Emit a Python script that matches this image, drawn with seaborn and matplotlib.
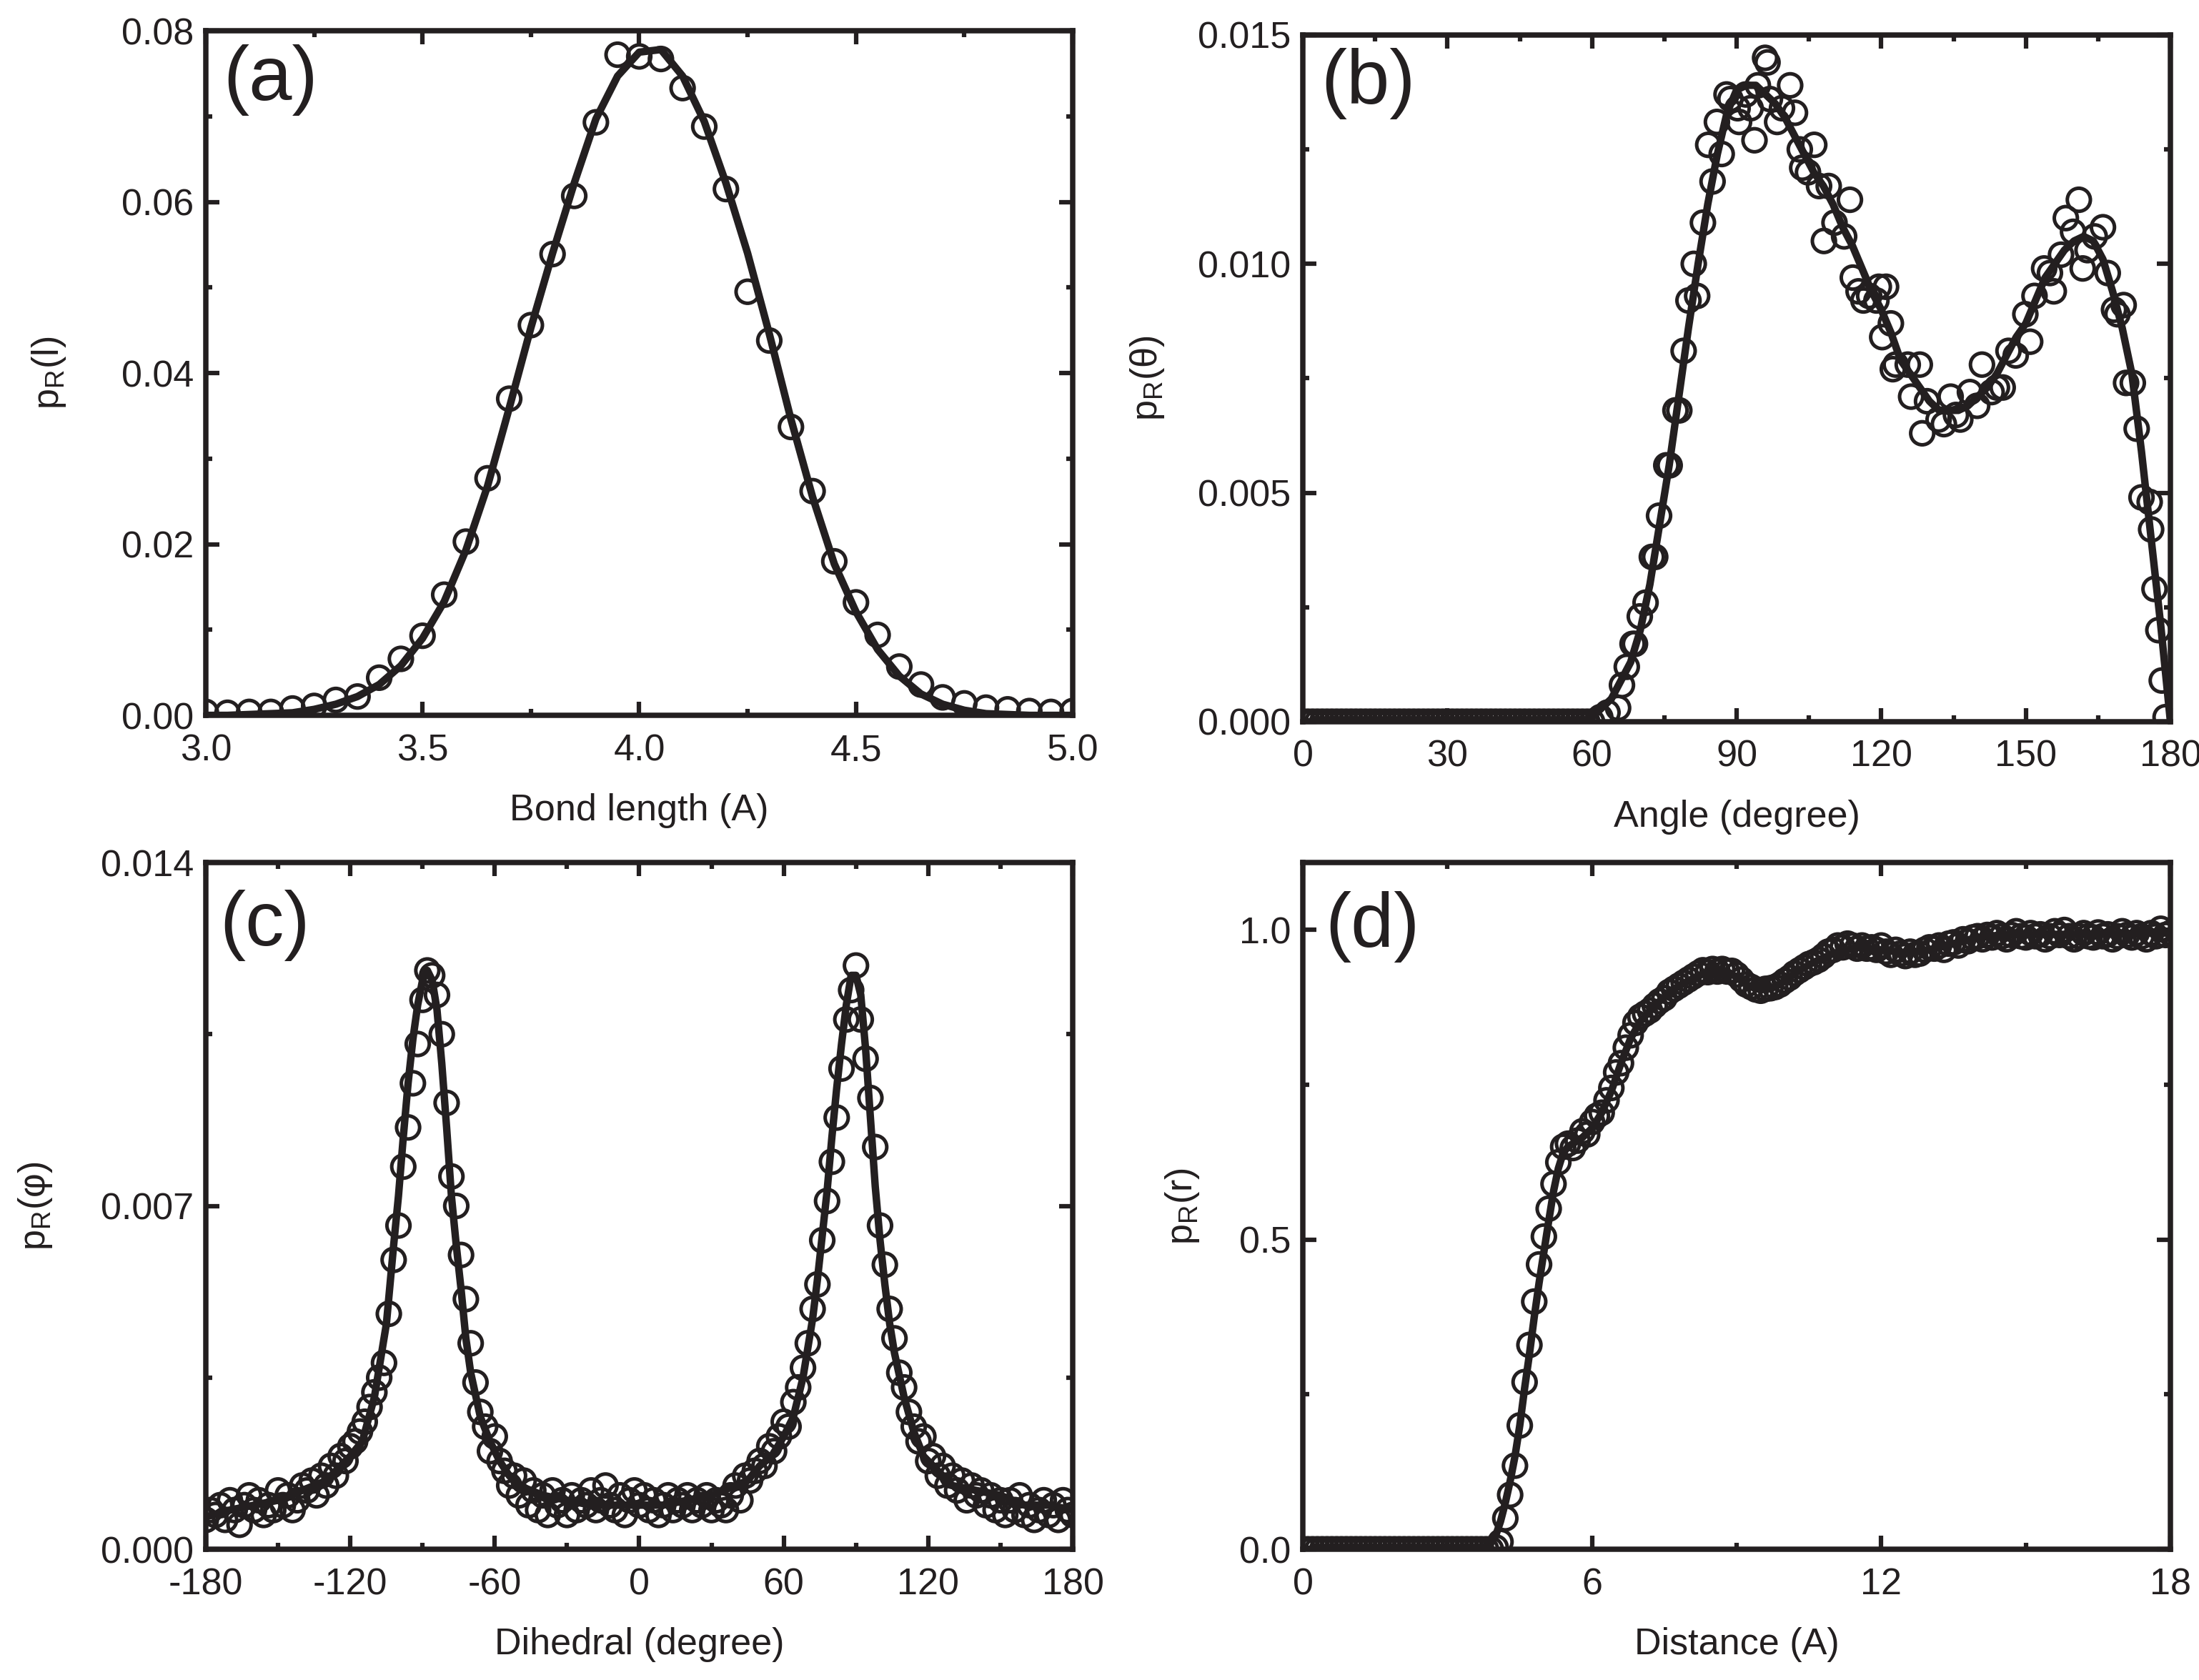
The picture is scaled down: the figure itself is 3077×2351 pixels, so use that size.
import numpy as np
import matplotlib
matplotlib.use("Agg")
import matplotlib.pyplot as plt
import seaborn as sns

INK = "#231f20"

# ---- (a) bond length distribution ----
bond_x = np.round(np.arange(3.0, 5.001, 0.05), 2)
bond_pts = [0.0004, 0.0003, 0.0004, 0.0004, 0.0008, 0.0011, 0.0018, 0.0022, 0.0044, 0.0066,
            0.0093, 0.0141, 0.0203, 0.0277, 0.0370, 0.0456, 0.0539, 0.0607, 0.0693, 0.0772,
            0.0770, 0.0767, 0.0733, 0.0688, 0.0615, 0.0495, 0.0438, 0.0337, 0.0262, 0.0180,
            0.0132, 0.0094, 0.0057, 0.0036, 0.0021, 0.0014, 0.0009, 0.0007, 0.0005, 0.0004,
            0.0005]
bond_fit = [0.0, 0.0, 0.0001, 0.0002, 0.0003, 0.0007, 0.0013, 0.0022, 0.0036, 0.0058,
            0.0090, 0.0133, 0.0193, 0.0268, 0.0359, 0.0453, 0.0540, 0.0622, 0.0697, 0.0747,
            0.0775, 0.0778, 0.0747, 0.0694, 0.0622, 0.0540, 0.0446, 0.0346, 0.0255, 0.0177,
            0.0121, 0.0077, 0.0046, 0.0025, 0.0013, 0.0006, 0.0002, 0.0001, 0.0, 0.0,
            0.0]

# ---- (b) angle distribution ----
angle_x = list(range(0, 61)) + [
    61.7, 63.2, 65.4, 66.2, 67.2, 68.4, 68.9, 69.9, 71.1, 72.4, 73.1, 73.9, 75.4, 76.1,
    77.3, 78.1, 79.0, 80.0, 81.1, 81.8, 83.0, 84.1, 85.0, 85.9, 86.9, 87.9, 88.7, 90.2,
    90.5, 91.9, 92.9, 93.7, 94.4, 95.9, 96.4, 96.9, 98.4, 99.4, 101.1, 102.1, 103.1, 103.6,
    104.8, 106.1, 107.1, 108.1, 109.1, 110.3, 112.3, 113.5, 114.1, 115.3, 116.3, 117.5,
    119.0, 119.5, 120.2, 121.0, 122.0, 122.4, 123.0, 125.5, 126.2, 128.0, 128.5, 129.5,
    131.9, 133.0, 134.4, 135.5, 136.4, 138.4, 139.9, 140.9, 142.9, 144.0, 145.2, 146.4,
    147.9, 149.9, 150.9, 151.8, 153.8, 155.0, 155.8, 157.3, 158.3, 159.8, 161.0, 161.8,
    162.8, 164.3, 166.0, 167.0, 168.3, 169.0, 170.3, 170.8, 172.2, 173.0, 174.0, 175.7,
    176.0, 176.7, 177.5, 178.2, 179.0]
angle_pts = [0.0] * 61 + [
    0.0001, 0.0002, 0.0003, 0.0008, 0.0012, 0.0017, 0.0017, 0.0023, 0.0026, 0.0036, 0.0036,
    0.0045, 0.0056, 0.0056, 0.0068, 0.0068, 0.0081, 0.0092, 0.0100, 0.0093, 0.0109, 0.0126,
    0.0118, 0.0131, 0.0124, 0.0137, 0.0136, 0.0134, 0.0131, 0.0137, 0.0134, 0.0127, 0.0139,
    0.0145, 0.0144, 0.0136, 0.0131, 0.0134, 0.0139, 0.0133, 0.0125, 0.0121, 0.0120, 0.0126,
    0.0117, 0.0105, 0.0117, 0.0109, 0.0106, 0.0114, 0.0097, 0.0094, 0.0092, 0.0093, 0.0092,
    0.0095, 0.0084, 0.0095, 0.0087, 0.0077, 0.0078, 0.0078, 0.0071, 0.0078, 0.0063, 0.0070,
    0.0066, 0.0065, 0.0071, 0.0067, 0.0066, 0.0072, 0.0069, 0.0078, 0.0072, 0.0073, 0.0073,
    0.0081, 0.0080, 0.0089, 0.0083, 0.0093, 0.0099, 0.0098, 0.0094, 0.0102, 0.0110, 0.0107,
    0.0114, 0.0099, 0.0103, 0.0106, 0.0108, 0.0098, 0.0090, 0.0089, 0.0091, 0.0074, 0.0074,
    0.0064, 0.0049, 0.0048, 0.0042, 0.0029, 0.0020, 0.0009, 0.0001]
angle_fit_x = [0, 56] + list(range(58, 181, 2))
angle_fit = [0.0, 0.0, 0.00003, 0.0001, 0.0003, 0.0005, 0.0009, 0.0013, 0.0020, 0.0030,
             0.0043, 0.0056, 0.0071, 0.0086, 0.0100, 0.0113, 0.0124, 0.0133, 0.0138, 0.0139,
             0.0139, 0.0137, 0.0135, 0.0132, 0.0128, 0.0124, 0.0120, 0.0117, 0.0113, 0.0108,
             0.0104, 0.0099, 0.0094, 0.0090, 0.0085, 0.0079, 0.0076, 0.0073, 0.0070, 0.0068,
             0.0068, 0.0068, 0.0069, 0.0071, 0.0073, 0.0076, 0.0080, 0.0084, 0.0087, 0.0092,
             0.0097, 0.0100, 0.0103, 0.0105, 0.0106, 0.0105, 0.0101, 0.0094, 0.0086, 0.0076,
             0.0059, 0.0040, 0.0021, 0.0]

# ---- (c) dihedral distribution ----
dih_x = np.arange(-180, 181, 2)
dih_pts = [
    0.0006, 0.0008, 0.0007, 0.0009, 0.0006, 0.0010, 0.0008, 0.0005, 0.0009, 0.0011,
    0.0008, 0.0010, 0.0007, 0.0009, 0.0008, 0.0012, 0.0009, 0.0011, 0.0008, 0.0010,
    0.0013, 0.0012, 0.0014, 0.0011, 0.0015, 0.0013, 0.0017, 0.0015, 0.0019, 0.0018,
    0.0021, 0.0022, 0.0024, 0.0026, 0.0029, 0.0032, 0.0035, 0.0038, 0.0048, 0.0059,
    0.0066, 0.0078, 0.0086, 0.0095, 0.0103, 0.0112, 0.0118, 0.0117, 0.0113, 0.0105,
    0.0091, 0.0076, 0.0070, 0.0060, 0.0051, 0.0042, 0.0034, 0.0028, 0.0025, 0.0020,
    0.0023, 0.0018, 0.0016, 0.0013, 0.0015, 0.0011, 0.0014, 0.0009, 0.0012, 0.0008,
    0.0011, 0.0007, 0.0012, 0.0009, 0.0010, 0.0007, 0.0011, 0.0008, 0.0010, 0.0009,
    0.0012, 0.0008, 0.0010, 0.0013, 0.0009, 0.0008, 0.0011, 0.0007, 0.0010, 0.0012,
    0.0009, 0.0011, 0.0008, 0.0010, 0.0007, 0.0009, 0.0011, 0.0008, 0.0010, 0.0009,
    0.0011, 0.0008, 0.0010, 0.0009, 0.0011, 0.0008, 0.0010, 0.0009, 0.0008, 0.0011,
    0.0013, 0.0010, 0.0015, 0.0014, 0.0016, 0.0018, 0.0017, 0.0021, 0.0020, 0.0023,
    0.0026, 0.0025, 0.0030, 0.0033, 0.0037, 0.0042, 0.0049, 0.0054, 0.0063, 0.0071,
    0.0079, 0.0088, 0.0098, 0.0108, 0.0114, 0.0119, 0.0108, 0.0100, 0.0092, 0.0082,
    0.0066, 0.0058, 0.0049, 0.0043, 0.0036, 0.0033, 0.0028, 0.0025, 0.0022, 0.0023,
    0.0018, 0.0019, 0.0015, 0.0017, 0.0013, 0.0015, 0.0012, 0.0014, 0.0010, 0.0013,
    0.0011, 0.0012, 0.0009, 0.0011, 0.0008, 0.0010, 0.0007, 0.0010, 0.0008, 0.0011,
    0.0007, 0.0009, 0.0006, 0.0008, 0.0010, 0.0007, 0.0009, 0.0006, 0.0010, 0.0008,
    0.0007]
dih_fit_x = [-180, -170, -160, -150, -140, -130, -120, -115, -110, -105, -102, -100, -98,
             -96, -94, -92, -90, -88, -86, -84, -82, -80, -78, -76, -74, -72, -70, -66, -62,
             -58, -54, -50, -40, -30, -20, -10, 0, 10, 20, 30, 40, 45, 50, 55, 60, 64, 68,
             70, 72, 74, 76, 78, 80, 82, 84, 86, 88, 90, 92, 94, 96, 98, 100, 102, 104, 106,
             110, 114, 118, 122, 130, 140, 150, 160, 170, 180]
dih_fit = [0.00066, 0.0008, 0.0009, 0.0010, 0.0012, 0.0014, 0.0019, 0.0022, 0.0031, 0.0046,
           0.0062, 0.0072, 0.0084, 0.0095, 0.0104, 0.0111, 0.0116, 0.0118, 0.0116, 0.0110,
           0.0099, 0.0086, 0.0072, 0.0062, 0.0053, 0.0043, 0.0036, 0.0027, 0.0022, 0.0018,
           0.0015, 0.0013, 0.0011, 0.0010, 0.0009, 0.0009, 0.0009, 0.0009, 0.0010, 0.0011,
           0.0013, 0.0014, 0.0017, 0.0019, 0.0023, 0.0027, 0.0035, 0.0041, 0.0047, 0.0055,
           0.0064, 0.0073, 0.0084, 0.0094, 0.0103, 0.0111, 0.0117, 0.0117, 0.0113, 0.0102,
           0.0088, 0.0074, 0.0063, 0.0054, 0.0046, 0.0040, 0.0031, 0.0024, 0.0019, 0.0017,
           0.0013, 0.0012, 0.0011, 0.0009, 0.0009, 0.0008]

# ---- (d) pair distance distribution ----
dist_x = np.round(np.arange(0, 18.001, 0.1), 1)
dist_pts = [0.0] * 40 + [
    0.003, 0.012, 0.050, 0.088, 0.135, 0.200, 0.270, 0.330, 0.400, 0.460,
    0.505, 0.550, 0.590, 0.625, 0.650, 0.655, 0.648, 0.660, 0.675, 0.670,
    0.690, 0.700, 0.705, 0.725, 0.745, 0.770, 0.785, 0.810, 0.830, 0.850,
    0.860, 0.865, 0.870, 0.878, 0.885, 0.890, 0.900, 0.905, 0.910, 0.915,
    0.920, 0.925, 0.930, 0.935, 0.932, 0.937, 0.933, 0.937, 0.933, 0.934,
    0.928, 0.920, 0.912, 0.908, 0.904, 0.902, 0.905, 0.906, 0.908, 0.912,
    0.918, 0.923, 0.930, 0.935, 0.940, 0.945, 0.948, 0.952, 0.958, 0.965,
    0.968, 0.975, 0.972, 0.978, 0.975, 0.970, 0.975, 0.970, 0.972, 0.968,
    0.975, 0.965, 0.960, 0.968, 0.962, 0.958, 0.965, 0.960, 0.962, 0.968,
    0.972, 0.970, 0.975, 0.968, 0.978, 0.980, 0.975, 0.985, 0.982, 0.988,
    0.990, 0.985, 0.992, 0.988, 0.995, 0.990, 0.985, 0.992, 0.998, 0.990,
    0.988, 0.995, 0.990, 0.993, 0.985, 0.990, 0.998, 0.992, 1.000, 0.990,
    0.985, 0.990, 0.995, 0.990, 0.988, 0.996, 0.990, 0.993, 0.985, 0.990,
    0.998, 0.992, 0.988, 0.995, 0.990, 0.985, 0.995, 0.990, 1.002, 0.992,
    0.995]
dist_fit_x = [0, 3.7, 3.8, 3.9, 4.0, 4.1, 4.2, 4.3, 4.4, 4.5, 4.6, 4.7, 4.8, 4.9, 5.0, 5.1,
              5.2, 5.3, 5.4, 5.5, 5.6, 5.8, 6.0, 6.2, 6.4, 6.6, 6.8, 7.0, 7.2, 7.4, 7.6, 7.8,
              8.0, 8.2, 8.4, 8.6, 8.8, 9.0, 9.2, 9.4, 9.6, 9.8, 10.0, 10.3, 10.6, 11.0, 11.5,
              12.0, 12.5, 13.0, 13.5, 14.0, 14.5, 15.0, 15.5, 16.0, 16.5, 17.0, 17.5, 18.0]
dist_fit = [0.0, 0.0, 0.003, 0.010, 0.022, 0.045, 0.075, 0.110, 0.150, 0.200, 0.260, 0.315,
            0.375, 0.430, 0.480, 0.530, 0.578, 0.615, 0.640, 0.650, 0.655, 0.665, 0.680,
            0.705, 0.740, 0.785, 0.825, 0.852, 0.870, 0.885, 0.898, 0.910, 0.918, 0.926,
            0.932, 0.935, 0.933, 0.924, 0.912, 0.905, 0.904, 0.908, 0.918, 0.935, 0.948,
            0.962, 0.972, 0.968, 0.963, 0.968, 0.978, 0.988, 0.992, 0.993, 0.993, 0.993,
            0.993, 0.994, 0.995, 0.995]

sns.set_theme(style="ticks")
plt.rcParams.update({
    "font.family": ["Liberation Sans", "DejaVu Sans"],
    "mathtext.fontset": "custom",
    "mathtext.rm": "Liberation Sans",
    "mathtext.it": "Liberation Sans",
    "mathtext.default": "regular",
    "axes.unicode_minus": False,
    "axes.linewidth": 1.8,
    "axes.edgecolor": INK,
    "text.color": INK,
    "axes.labelcolor": INK,
    "xtick.color": INK,
    "ytick.color": INK,
})

panels = [
    dict(rect=[0.0936, 0.5742, 0.3942, 0.4075], px=bond_x, py=bond_pts, cx=bond_x, cy=bond_fit,
         xlim=(3, 5), ylim=(0, 0.08), xt=[3.0, 3.5, 4.0, 4.5, 5.0], xm=[3.25, 3.75, 4.25, 4.75],
         yt=[0, 0.02, 0.04, 0.06, 0.08], ym=[0.01, 0.03, 0.05, 0.07], xf="{:.1f}", yf="{:.2f}",
         xlabel="Bond length (A)", ylabel="p$_R$(l)", ylx=-0.181, tag="(a)", tx=0.020, ty=0.928),
    dict(rect=[0.5925, 0.5704, 0.3945, 0.4088], px=angle_x, py=angle_pts, cx=angle_fit_x, cy=angle_fit,
         xlim=(0, 180), ylim=(0, 0.015), xt=[0, 30, 60, 90, 120, 150, 180], xm=[15, 45, 75, 105, 135, 165],
         yt=[0, 0.005, 0.010, 0.015], ym=[0.0025, 0.0075, 0.0125], xf="{:.0f}", yf="{:.3f}",
         xlabel="Angle (degree)", ylabel="p$_R$(θ)", ylx=-0.179, tag="(b)", tx=0.021, ty=0.929),
    dict(rect=[0.0936, 0.0778, 0.3942, 0.4088], px=dih_x, py=dih_pts, cx=dih_fit_x, cy=dih_fit,
         xlim=(-180, 180), ylim=(0, 0.014), xt=[-180, -120, -60, 0, 60, 120, 180], xm=[-150, -90, -30, 30, 90, 150],
         yt=[0, 0.007, 0.014], ym=[0.0035, 0.0105], xf="{:.0f}", yf="{:.3f}",
         xlabel="Dihedral (degree)", ylabel="p$_R$(φ)", ylx=-0.197, tag="(c)", tx=0.016, ty=0.908),
    dict(rect=[0.5925, 0.0778, 0.3945, 0.4088], px=dist_x, py=dist_pts, cx=dist_fit_x, cy=dist_fit,
         xlim=(0, 18), ylim=(0, 1.109), xt=[0, 6, 12, 18], xm=[3, 9, 15],
         yt=[0, 0.5, 1.0], ym=[0.25, 0.75], xf="{:.0f}", yf="{:.1f}",
         xlabel="Distance (A)", ylabel="p$_R$(r)", ylx=-0.139, tag="(d)", tx=0.026, ty=0.906),
]

fig = plt.figure(figsize=(3077 / 300, 2351 / 300), dpi=300)

for p in panels:
    ax = fig.add_axes(p["rect"])
    sns.scatterplot(x=p["px"], y=p["py"], ax=ax, marker="o", s=60, facecolor="none",
                    edgecolor=INK, linewidth=1.2, zorder=2)
    sns.lineplot(x=p["cx"], y=p["cy"], ax=ax, color=INK, linewidth=2.5, sort=False,
                 estimator=None, zorder=3)
    ax.set_xlim(*p["xlim"])
    ax.set_ylim(*p["ylim"])
    ax.set_xticks(p["xt"])
    ax.set_xticks(p["xm"], minor=True)
    ax.set_yticks(p["yt"])
    ax.set_yticks(p["ym"], minor=True)
    ax.set_xticklabels([p["xf"].format(v) for v in p["xt"]])
    ax.set_yticklabels([p["yf"].format(v) for v in p["yt"]])
    ax.tick_params(which="both", direction="in", top=True, right=True, width=1.5, labelsize=12.5)
    ax.tick_params(which="major", length=4.5)
    ax.tick_params(which="minor", length=2.2)
    ax.tick_params(axis="x", pad=6)
    ax.tick_params(axis="y", pad=4)
    for s in ax.spines.values():
        s.set_linewidth(1.8)
        s.set_color(INK)
    ax.set_xlabel(p["xlabel"], fontsize=12.5, va="center")
    ax.xaxis.set_label_coords(0.5, -0.139)
    ax.set_ylabel(p["ylabel"], fontsize=12.5, va="center")
    ax.yaxis.set_label_coords(p["ylx"], 0.5)
    ax.text(p["tx"], p["ty"], p["tag"], transform=ax.transAxes, fontsize=26,
            ha="left", va="center", color=INK)

fig.savefig("out.png", dpi=300)
